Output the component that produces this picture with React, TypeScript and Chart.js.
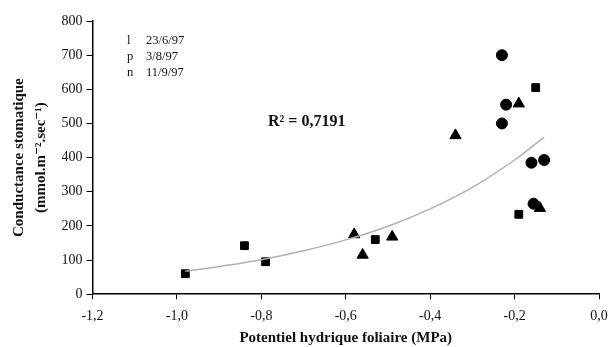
import React, { useEffect, useRef } from "react";
import { Chart, registerables } from "chart.js";

Chart.register(...registerables);

// 23/6/97 (circles)
const circleX = [-0.23, -0.22, -0.23, -0.16, -0.13, -0.155];
const circleY = [700, 555, 500, 385, 393, 265];
// 3/8/97 (triangles)
const triangleX = [-0.58, -0.56, -0.49, -0.34, -0.19, -0.14];
const triangleY = [175, 115, 168, 465, 558, 252];
// 11/9/97 (squares)
const squareX = [-0.98, -0.84, -0.79, -0.53, -0.15, -0.19];
const squareY = [60, 142, 95, 160, 605, 234];
// trend curve
const trendX = [-0.98, -0.9, -0.8, -0.7, -0.6, -0.5, -0.4, -0.3, -0.2, -0.13];
const trendY = [67, 81, 101, 127, 159, 199, 250, 313, 393, 460];

const legendSymbols = ["l", "p", "n"];
const legendDates = ["23/6/97", "3/8/97", "11/9/97"];
const r2Label = "R² = 0,7191";
const xTitle = "Potentiel hydrique foliaire (MPa)";
const yTitle = ["Conductance stomatique", "(mmol.m⁻².sec⁻¹)"];

const SERIF = "'Liberation Serif', 'DejaVu Serif', serif";

const zip = (xs: number[], ys: number[]) => xs.map((x, i) => ({ x, y: ys[i] }));

const annotations = {
  id: "annotations",
  afterDraw(chart: any) {
    const ctx = chart.ctx;
    ctx.save();
    ctx.fillStyle = "#111";
    ctx.textBaseline = "middle";
    ctx.textAlign = "left";
    ctx.font = `12.5px ${SERIF}`;
    const rows = [41, 57, 73];
    legendSymbols.forEach((s, i) => {
      ctx.fillText(s, 127, rows[i]);
      ctx.fillText(legendDates[i], 146, rows[i]);
    });
    ctx.font = `bold 16px ${SERIF}`;
    ctx.fillText(r2Label, 268, 122);
    ctx.restore();
  },
};

export default function App() {
  const ref = useRef<HTMLCanvasElement>(null);
  useEffect(() => {
    const canvas = ref.current!;
    const chart = new Chart(canvas, {
      type: "scatter",
      data: {
        datasets: [
          {
            type: "line",
            data: zip(trendX, trendY),
            borderColor: "#b0b0b0",
            borderWidth: 1.5,
            pointRadius: 0,
            tension: 0.4,
            fill: false,
          } as any,
          {
            data: zip(circleX, circleY),
            pointStyle: "circle",
            pointRadius: 5.5,
            backgroundColor: "#000",
            borderColor: "#000",
          },
          {
            data: zip(triangleX, triangleY),
            pointStyle: "triangle",
            pointRadius: 6.5,
            backgroundColor: "#000",
            borderColor: "#000",
          },
          {
            data: zip(squareX, squareY),
            pointStyle: "rect",
            pointRadius: 5.5,
            backgroundColor: "#000",
            borderColor: "#000",
          },
        ],
      },
      options: {
        responsive: false,
        animation: false,
        layout: { padding: { left: 8, right: 20, top: 21, bottom: 0 } },
        plugins: { legend: { display: false }, tooltip: { enabled: false } },
        scales: {
          x: {
            type: "linear",
            min: -1.2,
            max: 0,
            grid: { display: true, drawOnChartArea: false, drawTicks: true, tickLength: 5, color: "#000" },
            border: { display: true, color: "#000", width: 1.5 },
            ticks: {
              stepSize: 0.2,
              color: "#111",
              font: { family: SERIF, size: 14 },
              padding: 9,
              maxRotation: 0,
              callback: (v: any) => {
                const n = Math.abs(v) < 1e-9 ? 0 : Number(v);
                return n.toFixed(1).replace(".", ",");
              },
            },
            title: {
              display: true,
              text: xTitle,
              color: "#111",
              font: { family: SERIF, size: 15, weight: "bold" },
              padding: { top: -5, bottom: 0 },
            },
          },
          y: {
            min: 0,
            max: 800,
            grid: { display: true, drawOnChartArea: false, drawTicks: true, tickLength: 6, color: "#000" },
            border: { display: true, color: "#000", width: 1.5 },
            ticks: {
              stepSize: 100,
              color: "#111",
              font: { family: SERIF, size: 14 },
              padding: 4,
            },
            title: {
              display: true,
              text: yTitle,
              color: "#111",
              font: { family: SERIF, size: 15, weight: "bold", lineHeight: 1.45 },
              padding: { top: 0, bottom: 6 },
            },
          },
        },
      },
      plugins: [annotations],
    } as any);
    return () => chart.destroy();
  }, []);
  return (
    <div style={{ position: "absolute", left: 0, top: 0, width: 609, height: 347, overflow: "hidden", background: "#fff" }}>
      <canvas ref={ref} width={619} height={347} />
    </div>
  );
}
